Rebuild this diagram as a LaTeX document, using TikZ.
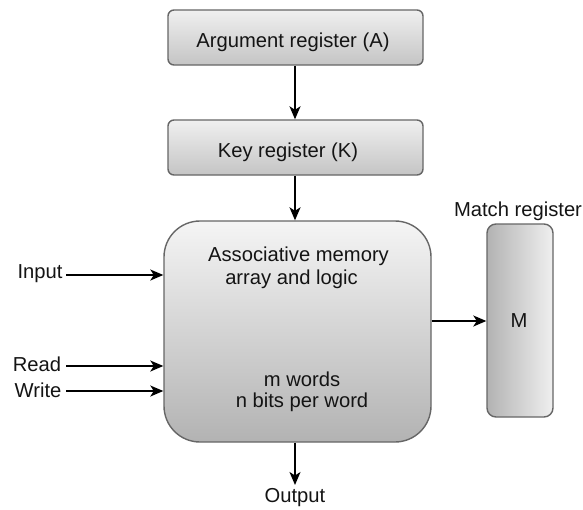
\documentclass[tikz,border=0pt]{standalone}
\usepackage{fontspec}
\setmainfont{Liberation Sans}
\usetikzlibrary{arrows.meta}
\begin{document}
\begin{tikzpicture}[x=1pt,y=-1pt,
  every node/.style={font=\fontsize{20.2}{24}\selectfont, text=black!92},
  regbox/.style={draw=black!60, line width=1.4pt, rounded corners=6pt,
    top color=black!6, bottom color=black!23, inner sep=0pt},
  arr/.style={draw=black, line width=1.6pt,
    -{Stealth[length=13pt,width=11pt,inset=3.5pt]}},
  lbl/.style={inner sep=0pt}]
\useasboundingbox (0,0) rectangle (583,509);

% registers feeding the memory array
\node[regbox, minimum width=255pt, minimum height=55pt] (A) at (295.5,37.5) {};
\node[lbl] (Atext) at (293,42) {Argument register (A)};
\node[regbox, minimum width=255pt, minimum height=55pt] (K) at (295.5,147.5) {};
\node[lbl] (Ktext) at (288,152) {Key register (K)};

% associative memory array
\node[draw=black!60, line width=1.4pt, rounded corners=36pt,
  top color=black!4, bottom color=black!30, inner sep=0pt,
  minimum width=267pt, minimum height=221pt] (main) at (297.5,331.5) {};
\node[lbl] (t1) at (298.5,256) {Associative memory};
\node[lbl] (t2) at (291.5,279) {array and logic};
\node[lbl] (t3) at (302,379) {m words};
\node[lbl] (t4) at (302,402) {n bits per word};

% match register
\node[draw=black!60, line width=1.4pt, rounded corners=9pt,
  left color=black!30, right color=black!6, inner sep=0pt,
  minimum width=66pt, minimum height=193pt] (M) at (520,320.5) {};
\node[lbl] (Mtext) at (519,321) {M};
\node[lbl] (Mlabel) at (518,211) {Match register};

% external signals
\node[lbl] (input) at (40,274) {Input};
\node[lbl] (read) at (37,364) {Read};
\node[lbl] (write) at (38,390) {Write};
\node[lbl] (output) at (295,498) {Output};

\coordinate (inS) at (66,275);
\coordinate (rdS) at (66,366);
\coordinate (wrS) at (66,391);
\coordinate (outE) at (295,485);

\draw[arr] (A.south -| 295,0) -- (K.north -| 295,0);
\draw[arr] (K.south -| 295,0) -- (main.north -| 295,0);
\draw[arr] (inS) -- (inS -| main.west);
\draw[arr] (rdS) -- (rdS -| main.west);
\draw[arr] (wrS) -- (wrS -| main.west);
\draw[arr] (main.east |- 0,321) -- (M.west |- 0,321);
\draw[arr] (main.south -| outE) -- (outE);
\end{tikzpicture}
\end{document}
